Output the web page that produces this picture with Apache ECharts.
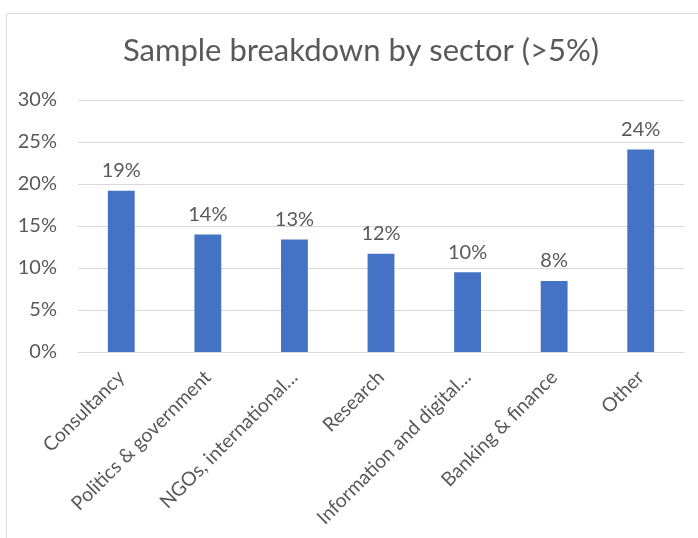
<!DOCTYPE html>
<html>
<head>
<meta charset="utf-8">
<script src="https://cdn.jsdelivr.net/npm/echarts@6/dist/echarts.min.js"></script>
<style>
html,body{margin:0;padding:0;background:#fff;}
#chart{width:698px;height:538px;}
</style>
</head>
<body>
<div id="chart"></div>
<script>
var titleText = 'Sample breakdown by sector (>5%)';
var categories = ['Consultancy', 'Politics & government', 'NGOs, international\u2026', 'Research', 'Information and digital\u2026', 'Banking & finance', 'Other'];
var shares = [19.2, 14.0, 13.4, 11.7, 9.5, 8.45, 24.1];
var yTicks = [0, 5, 10, 15, 20, 25, 30];

var FONT = 'Lato';
var TEXT = '#595959';
var chart = echarts.init(document.getElementById('chart'), null, {renderer: 'canvas'});
chart.setOption({
  animation: false,
  backgroundColor: '#ffffff',
  graphic: [{
    type: 'rect',
    shape: {x: 6.5, y: 13.5, width: 720, height: 560},
    style: {fill: 'none', stroke: '#d9d9d9', lineWidth: 1},
    silent: true
  }],
  title: {
    text: titleText,
    left: 356,
    textAlign: 'center',
    top: 30,
    textStyle: {fontFamily: FONT, fontSize: 31, fontWeight: 'normal', color: TEXT}
  },
  grid: {left: 78, right: 14, top: 100, bottom: 186, containLabel: false},
  xAxis: {
    type: 'category',
    data: categories,
    axisLine: {show: true, lineStyle: {color: '#d9d9d9', width: 1}},
    axisTick: {show: false},
    axisLabel: {
      interval: 0,
      rotate: 45,
      margin: 22,
      fontFamily: FONT,
      fontSize: 19.5,
      color: TEXT
    }
  },
  yAxis: {
    type: 'value',
    min: yTicks[0],
    max: yTicks[yTicks.length - 1],
    interval: 5,
    axisLine: {show: false},
    axisTick: {show: false},
    splitLine: {show: true, lineStyle: {color: '#d9d9d9', width: 1}},
    axisLabel: {
      formatter: '{value}%',
      margin: 21,
      fontFamily: FONT,
      fontSize: 20,
      color: TEXT
    }
  },
  series: [{
    type: 'bar',
    data: shares,
    barWidth: '31%',
    itemStyle: {color: '#4472c4'},
    label: {
      show: true,
      position: 'top',
      distance: 10,
      formatter: function (p) { return Math.round(p.value) + '%'; },
      fontFamily: FONT,
      fontSize: 20,
      color: TEXT
    }
  }]
});
</script>
</body>
</html>
